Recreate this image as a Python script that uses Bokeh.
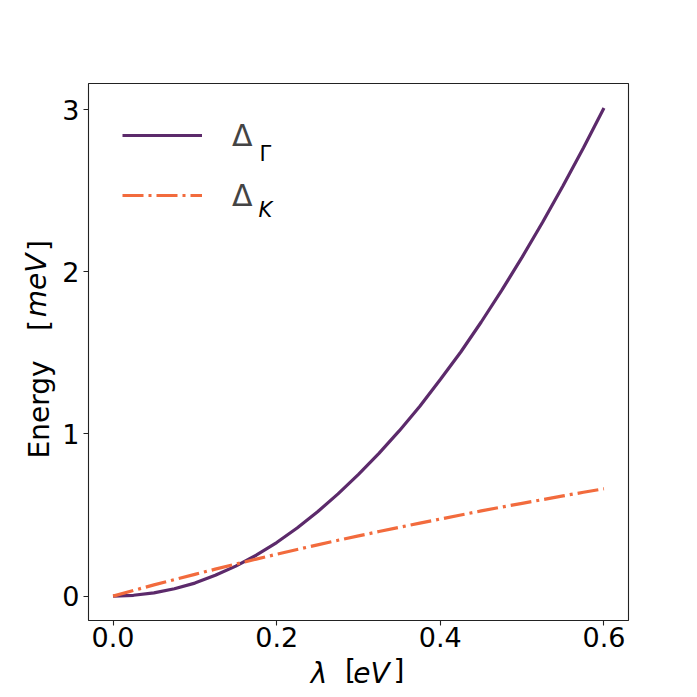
from bokeh.plotting import figure
from bokeh.models import (Range1d, FixedTicker, Legend, LegendItem, Label,
                          LinearAxis)
from bokeh.embed import file_html
from bokeh.resources import INLINE

# ---- data ----
lam = [0.0, 0.025, 0.05, 0.075, 0.1, 0.125, 0.15, 0.175, 0.2, 0.225, 0.25,
       0.275, 0.3, 0.325, 0.35, 0.375, 0.4, 0.425, 0.45, 0.475, 0.5, 0.525,
       0.55, 0.575, 0.6]
delta_gamma = [0.0, 0.005, 0.02, 0.045, 0.08, 0.128, 0.185, 0.252, 0.33, 0.42,
               0.52, 0.63, 0.75, 0.88, 1.02, 1.17, 1.335, 1.505, 1.69, 1.885,
               2.09, 2.305, 2.53, 2.765, 3.01]
delta_k = [0.0, 0.035, 0.069, 0.102, 0.134, 0.166, 0.197, 0.228, 0.258, 0.287,
           0.316, 0.344, 0.371, 0.398, 0.424, 0.45, 0.475, 0.5, 0.525, 0.549,
           0.572, 0.595, 0.618, 0.64, 0.662]
x_ticks = [0.0, 0.2, 0.4, 0.6]
x_tick_labels = ["0.0", "0.2", "0.4", "0.6"]
y_ticks = [0, 1, 2, 3]
y_tick_labels = ["0", "1", "2", "3"]

PURPLE = "#5c2a6b"
ORANGE = "#f26b3d"
FONT = "DejaVu Sans"
LBL = "28px"
NEG = -33   # pulls the italic pieces back into the row/column of the upright ones

FL, FT, FW, FH = 88, 83, 540, 537
XR = (-0.03, 0.63)
YR = (-0.1505, 3.1605)

def dx(fx):
    return XR[0] + (fx - FL) / FW * (XR[1] - XR[0])

def dy(fy):
    return YR[1] - (fy - FT) / FH * (YR[1] - YR[0])

p = figure(frame_width=FW, frame_height=FH, output_backend="svg",
           toolbar_location=None, x_range=Range1d(*XR), y_range=Range1d(*YR),
           min_border_left=FL, min_border_top=FT, min_border_right=61,
           min_border_bottom=69)
p.background_fill_color = "white"
p.border_fill_color = "white"
p.grid.visible = False
p.outline_line_color = "#222222"
p.outline_line_width = 1.1

for ax, ticks, labels in ((p.xaxis, x_ticks, x_tick_labels),
                          (p.yaxis, y_ticks, y_tick_labels)):
    ax.ticker = FixedTicker(ticks=ticks)
    ax.major_label_overrides = {t: l for t, l in zip(ticks, labels)}
    ax.major_label_text_font = FONT
    ax.major_label_text_font_size = "27px"
    ax.major_label_text_color = "black"
    ax.axis_line_color = None
    ax.major_tick_line_color = "#222222"
    ax.major_tick_line_width = 1.1
    ax.major_tick_out = 5
    ax.major_tick_in = 0
    ax.minor_tick_line_color = None
p.xaxis.major_label_standoff = 1
p.yaxis.major_label_standoff = 4

r1 = p.line(lam, delta_gamma, line_color=PURPLE, line_width=3.2)
r2 = p.line(lam, delta_k, line_color=ORANGE, line_width=3.2,
            line_dash="21 5 3 5")

legend = Legend(items=[LegendItem(label="Δ", renderers=[r1]),
                       LegendItem(label="Δ", renderers=[r2])],
                location=(34, 405), glyph_width=80, glyph_height=40,
                label_height=40, spacing=20, label_standoff=30, padding=0,
                margin=0, border_line_color=None, background_fill_alpha=0,
                label_text_font=FONT, label_text_font_size="30px")
p.add_layout(legend)

def lab(text, fx, fy, size="21px", style="normal"):
    p.add_layout(Label(x=dx(fx), y=dy(fy), text=text, text_font=FONT,
                       text_font_size=size, text_font_style=style,
                       text_align="left", text_baseline="alphabetic",
                       text_color="black"))

# legend subscripts
lab("Γ", 259, 153)
lab("K", 258, 209, style="italic")

# axis titles built from label-only axes (page-pixel ranges)
p.extra_x_ranges = {"px": Range1d(FL, FL + FW)}
p.extra_y_ranges = {"py": Range1d(FT + FH, FT)}

def text_axis(kind, pieces, style, standoff):
    if kind == "x":
        ax = LinearAxis(x_range_name="px")
    else:
        ax = LinearAxis(y_range_name="py")
        ax.major_label_orientation = "vertical"
    ax.ticker = FixedTicker(ticks=[c for c, _ in pieces])
    ax.major_label_overrides = {c: t for c, t in pieces}
    ax.major_label_text_font = FONT
    ax.major_label_text_font_size = LBL
    ax.major_label_text_font_style = style
    ax.major_label_text_color = "black"
    ax.major_label_standoff = standoff
    ax.axis_line_color = None
    ax.major_tick_line_color = None
    ax.minor_tick_line_color = None
    ax.major_tick_out = 0
    ax.major_tick_in = 0
    p.add_layout(ax, "below" if kind == "x" else "left")

# x title: "λ  [eV]"
text_axis("x", [(350, "["), (398.5, "]")], "normal", 4)
text_axis("x", [(318.5, "λ"), (371, "eV")], "italic", NEG)
# y title: "Energy  [meV]"
text_axis("y", [(409, "Energy"), (325, "["), (245, "]")], "normal", 4)
text_axis("y", [(285, "meV")], "italic", NEG)

open("out.html", "w").write(file_html(p, INLINE))
